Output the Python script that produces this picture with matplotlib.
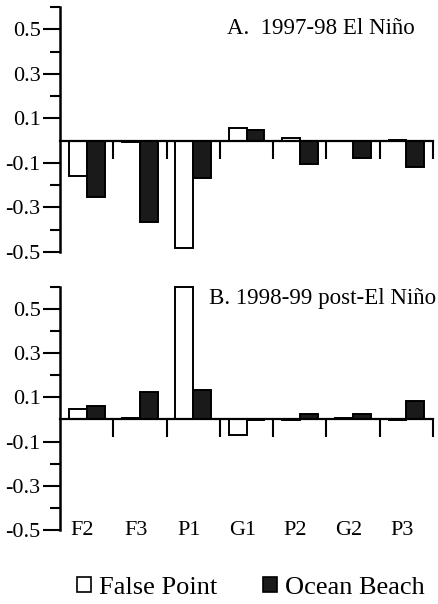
import numpy as np
import matplotlib.pyplot as plt
from matplotlib.patches import Patch
from matplotlib.ticker import FixedLocator

plt.rcParams['font.family'] = ['Liberation Serif', 'DejaVu Serif']

sites = ["F2", "F3", "P1", "G1", "P2", "G2", "P3"]

# 1997-98 El Nino
a_false_point = [-0.16, -0.005, -0.48, 0.055, 0.014, -0.003, 0.004]
a_ocean_beach = [-0.255, -0.365, -0.17, 0.047, -0.105, -0.08, -0.12]

# 1998-99 post-El Nino
b_false_point = [0.048, 0.005, 0.60, -0.072, -0.003, 0.006, -0.002]
b_ocean_beach = [0.06, 0.125, 0.135, -0.003, 0.026, 0.024, 0.083]

fig = plt.figure(figsize=(4.39, 6.04), dpi=100)
ax_a = fig.add_axes([0.1367, 0.5828, 0.8497, 0.4056])
ax_b = fig.add_axes([0.1367, 0.1225, 0.8497, 0.4028])

x = np.arange(len(sites))
w = 0.335


def draw_panel(ax, fp, ob, title, tx, ty):
    ax.bar(x + 0.165, fp, width=w, align='edge', color='white',
           edgecolor='black', linewidth=1.4, clip_on=False, zorder=3)
    ax.bar(x + 0.5, ob, width=w, align='edge', color='#1a1a1a',
           edgecolor='black', linewidth=1.4, clip_on=False, zorder=3)
    ax.set_xlim(0, 7)
    ax.set_ylim(-0.5, 0.6)
    for s in ['top', 'right']:
        ax.spines[s].set_visible(False)
    ax.spines['left'].set_linewidth(1.8)
    ax.spines['bottom'].set_position(('data', 0))
    ax.spines['bottom'].set_linewidth(1.6)
    ax.spines['bottom'].set_zorder(4)
    ax.xaxis.set_major_locator(FixedLocator(range(1, 8)))
    ax.set_xticklabels([])
    ax.tick_params(axis='x', direction='out', length=13, width=1.5)
    ax.yaxis.set_major_locator(FixedLocator([-0.5, -0.3, -0.1, 0.1, 0.3, 0.5]))
    ax.yaxis.set_minor_locator(FixedLocator([-0.4, -0.2, 0.2, 0.4, 0.6]))
    ax.set_yticklabels(['-0.5', '-0.3', '-0.1', '0.1', '0.3', '0.5'])
    ax.tick_params(axis='y', which='major', direction='out', length=12,
                   width=1.5, labelsize=16, pad=2)
    ax.tick_params(axis='y', which='minor', direction='out', length=7,
                   width=1.5)
    ax.text(tx, ty, title, transform=ax.transAxes, ha='right', va='center',
            fontsize=16.5)


draw_panel(ax_a, a_false_point, a_ocean_beach, "A.  1997-98 El Niño", 0.952, 0.914)
draw_panel(ax_b, b_false_point, b_ocean_beach, "B. 1998-99 post-El Niño", 1.008, 0.953)

for i, name in enumerate(sites):
    ax_b.text(i + 0.42, -0.5, name, ha='center', va='center', fontsize=16)

handles = [Patch(facecolor='white', edgecolor='black', linewidth=1.2),
           Patch(facecolor='#1a1a1a', edgecolor='black', linewidth=1.2)]
fig.legend(handles, ["False Point", "Ocean Beach"], loc='center',
           bbox_to_anchor=(0.572, 0.027), ncol=2, frameon=False,
           fontsize=19, handlelength=0.52, handleheight=0.52,
           handletextpad=0.3, columnspacing=1.75)

fig.savefig("out.png", dpi=100)
